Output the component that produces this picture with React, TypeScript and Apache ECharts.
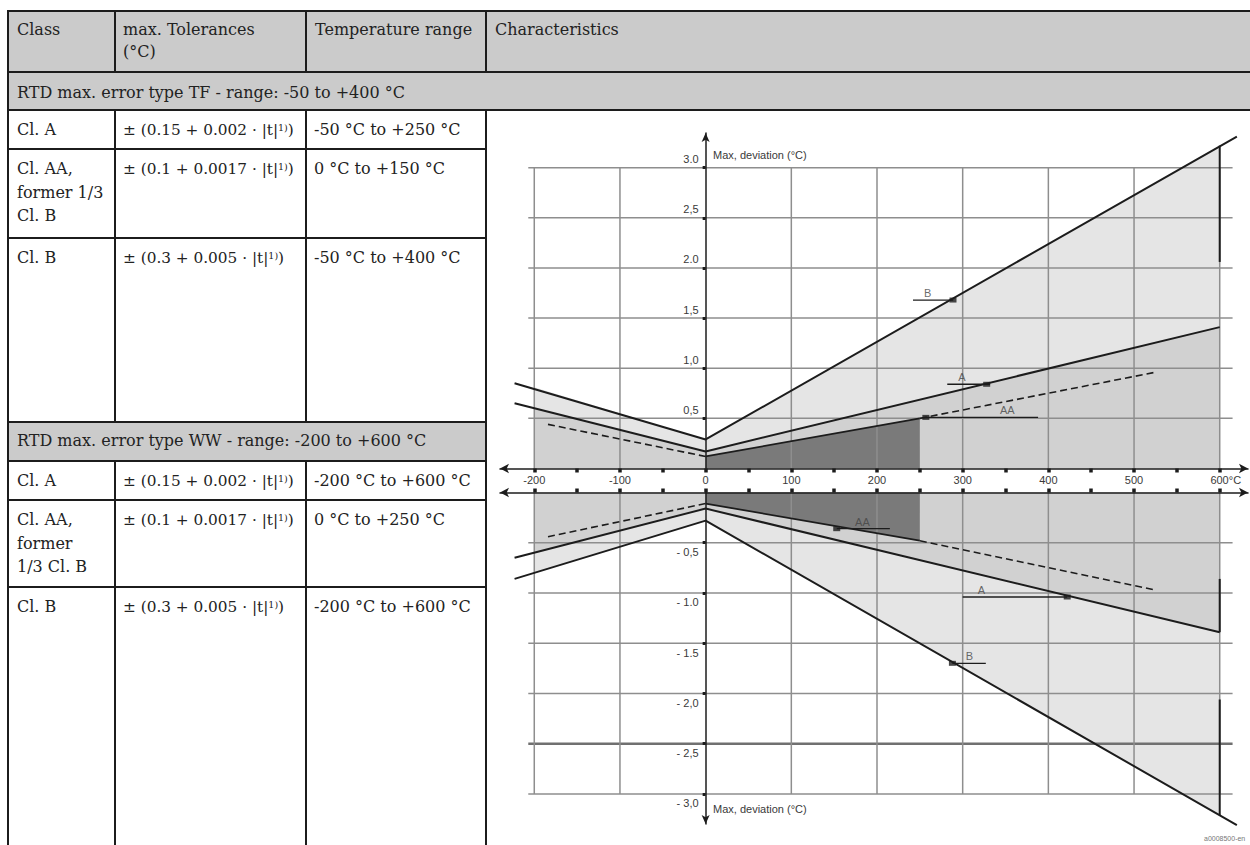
import React, { useEffect, useRef } from "react";
import * as echarts from "echarts";

// ---------- table content ----------
const headerCells = ["Class", "max. Tolerances", "(°C)", "Temperature range", "Characteristics"];
const sectionTF = "RTD max. error type TF - range: -50 to +400 °C";
const sectionWW = "RTD max. error type WW - range: -200 to +600 °C";
const classesTF = [["Cl. A"], ["Cl. AA,", "former 1/3", "Cl. B"], ["Cl. B"]];
const classesWW = [["Cl. A"], ["Cl. AA,", "former", "1/3 Cl. B"], ["Cl. B"]];
const tolerancesTF = [["0.15", "0.002"], ["0.1", "0.0017"], ["0.3", "0.005"]];
const tolerancesWW = [["0.15", "0.002"], ["0.1", "0.0017"], ["0.3", "0.005"]];
const rangesTF = ["-50 °C to +250 °C", "0 °C to +150 °C", "-50 °C to +400 °C"];
const rangesWW = ["-200 °C to +600 °C", "0 °C to +250 °C", "-200 °C to +600 °C"];

// ---------- chart axes ----------
const tempTicks = [-200, -150, -100, -50, 0, 50, 100, 150, 200, 250, 300, 350, 400, 450, 500, 550, 600];
const tempLabels = [-200, -100, 0, 100, 200, 300, 400, 500, 600];
const gridTemps = [-200, -100, 100, 200, 300, 400, 500, 600];
const posDevTicks = [0.5, 1, 1.5, 2, 2.5, 3];
const posDevLabels = ["0,5", "1,0", "1,5", "2.0", "2,5", "3.0"];
const negDevTicks = [-0.5, -1, -1.5, -2, -2.5, -3];
const negDevLabels = ["- 0,5", "- 1.0", "- 1.5", "- 2,0", "- 2,5", "- 3,0"];

// ---------- positive deviation (upper half) ----------
const upperB = [[-223, 0.85], [0, 0.29], [620, 3.31]];
const upperA = [[-223, 0.65], [0, 0.17], [600, 1.41]];
const upperAALeft = [[-184, 0.44], [0, 0.12]];
const upperAA = [[0, 0.12], [250, 0.5]];
const upperAARight = [[250, 0.5], [525, 0.96]];
const upperFillB = [[-200, 0.81], [0, 0.29], [600, 3.22]];
const upperFillA = [[-200, 0.6], [0, 0.17], [600, 1.41]];
const upperFillAA = [[0, 0.12], [250, 0.5]];
const upperEdge = [[600, 3.22], [600, 2.06]];
const upperMarkers = [[288.7, 1.68], [328, 0.84], [257, 0.51]];
const upperLeaders = [
  [[242, 1.68], [289, 1.68]],
  [[282, 0.84], [332, 0.84]],
  [[257, 0.51], [388, 0.51]],
];
const upperTags = [
  { name: "B", value: [259, 1.68] },
  { name: "A", value: [299, 0.84] },
  { name: "AA", value: [352, 0.51] },
];

// ---------- negative deviation (lower half) ----------
const lowerB = [[-223, -0.86], [0, -0.28], [620, -3.31]];
const lowerA = [[-223, -0.65], [0, -0.16], [600, -1.39]];
const lowerAALeft = [[-184, -0.44], [0, -0.11]];
const lowerAA = [[0, -0.11], [250, -0.48]];
const lowerAARight = [[250, -0.48], [525, -0.97]];
const lowerFillB = [[-200, -0.8], [0, -0.28], [600, -3.21]];
const lowerFillA = [[-200, -0.6], [0, -0.16], [600, -1.39]];
const lowerFillAA = [[0, -0.11], [250, -0.48]];
const lowerEdgeA = [[600, -0.86], [600, -1.39]];
const lowerEdgeB = [[600, -2.06], [600, -3.21]];
const lowerMarkers = [[153, -0.36], [422, -1.04], [288, -1.7]];
const lowerLeaders = [
  [[153, -0.36], [215, -0.36]],
  [[300, -1.04], [422, -1.04]],
  [[288, -1.7], [327, -1.7]],
];
const lowerTags = [
  { name: "AA", value: [183, -0.36] },
  { name: "A", value: [322, -1.04] },
  { name: "B", value: [308, -1.7] },
];

// ---------- styles ----------
const SERIF = '"DejaVu Serif", "Liberation Serif", serif';
const SANS = '"Liberation Sans", Arial, sans-serif';
const INK = "#1c1c1c";
const HEAD_GRAY = "#cbcbcb";
const LIGHT = "#e5e5e5";
const MID = "#d1d1d1";
const DARK = "#7a7a7a";
const GRIDC = "#8e8e8e";

const GRID_LEFT = 500;
const GRID_WIDTH = 748;
const T_MIN = -240;
const T_MAX = 633;
// the deviation axis sits on 0 °C
const ZERO_SHIFT = (-T_MIN / (T_MAX - T_MIN)) * GRID_WIDTH;

const GRID_X_MIN = -207;
const GRID_X_MAX = 615;

function gridSegments(devTicks: number[], devEnd: number) {
  const segs: number[][] = [];
  devTicks.forEach((v) => segs.push([GRID_X_MIN, v, GRID_X_MAX, v]));
  gridTemps.forEach((t) => segs.push([t, 0, t, devEnd]));
  return segs;
}

function gridSeries(idx: number, devTicks: number[], devEnd: number) {
  return {
    type: "custom",
    xAxisIndex: idx,
    yAxisIndex: idx,
    z: 2,
    silent: true,
    data: gridSegments(devTicks, devEnd),
    renderItem: (_p: any, api: any) => {
      const a = api.coord([api.value(0), api.value(1)]);
      const b = api.coord([api.value(2), api.value(3)]);
      const heavy = api.value(1) === -2.5 && api.value(3) === -2.5;
      return {
        type: "line",
        shape: { x1: a[0], y1: a[1], x2: b[0], y2: b[1] },
        style: { stroke: heavy ? "#707070" : GRIDC, lineWidth: heavy ? 2.5 : 1.5 },
      };
    },
  };
}

function area(idx: number, data: number[][], color: string) {
  return {
    type: "line",
    xAxisIndex: idx,
    yAxisIndex: idx,
    data,
    symbol: "none",
    z: 1,
    silent: true,
    clip: false,
    lineStyle: { width: 0, opacity: 0 },
    areaStyle: { color, opacity: 1 },
  };
}

function stroke(idx: number, data: number[][], width = 2, dashed = false, z = 3) {
  return {
    type: "line",
    xAxisIndex: idx,
    yAxisIndex: idx,
    data,
    symbol: "none",
    z,
    silent: true,
    clip: false,
    lineStyle: { color: INK, width, type: dashed ? [7, 4] : "solid" },
  };
}

function markers(idx: number, data: number[][]) {
  return {
    type: "scatter",
    xAxisIndex: idx,
    yAxisIndex: idx,
    data,
    symbol: "rect",
    symbolSize: [7, 5],
    z: 5,
    silent: true,
    clip: false,
    itemStyle: { color: INK },
  };
}

function tags(idx: number, data: any[]) {
  return {
    type: "scatter",
    xAxisIndex: idx,
    yAxisIndex: idx,
    data,
    symbolSize: 1,
    z: 5,
    silent: true,
    clip: false,
    itemStyle: { color: "rgba(0,0,0,0)" },
    label: {
      show: true,
      position: "top",
      distance: 1,
      formatter: "{b}",
      fontFamily: SANS,
      fontSize: 11,
      color: "#444",
    },
  };
}

// ---------- table drawing ----------
const FONT_PX = 16;
const TOL_FONT_PX = 15.3;

function hLine(y: number, x1: number, x2: number) {
  return { type: "line", z: 20, silent: true, shape: { x1, y1: y, x2, y2: y }, style: { stroke: INK, lineWidth: 2 } };
}
function vLine(x: number, y1: number, y2: number) {
  return { type: "line", z: 20, silent: true, shape: { x1: x, y1, x2: x, y2 }, style: { stroke: INK, lineWidth: 2 } };
}
function txt(x: number, y: number, text: string, size = FONT_PX) {
  return {
    type: "text",
    z: 21,
    silent: true,
    x,
    y,
    style: {
      text,
      fontFamily: SERIF,
      fontSize: size,
      fill: "#222",
      verticalAlign: "middle",
      align: "left",
      rich: {
        s: { fontFamily: SERIF, fontSize: 9.5, fill: "#222", verticalAlign: "top", lineHeight: 15 },
      },
    },
  };
}
function tolText(tol: string[]) {
  return `± (${tol[0]} + ${tol[1]} · |t|{s|1)})`;
}

const COLX = [8, 115, 306, 486, 1252];
const LINE_H = 23.5;

function tableGraphics() {
  const g: any[] = [];
  // gray bands
  g.push({ type: "rect", z: 19, silent: true, shape: { x: 8, y: 11, width: 1244, height: 99 }, style: { fill: HEAD_GRAY } });
  g.push({ type: "rect", z: 19, silent: true, shape: { x: 8, y: 422, width: 478, height: 39 }, style: { fill: HEAD_GRAY } });
  // horizontal rules
  g.push(hLine(11, 7, 1252));
  g.push(hLine(72, 7, 1252));
  g.push(hLine(110, 7, 1252));
  [149, 238, 422, 461, 500, 587].forEach((y) => g.push(hLine(y, 7, 487)));
  // vertical rules
  g.push(vLine(8, 10, 846));
  [115, 306].forEach((x) => {
    g.push(vLine(x, 10, 72));
    g.push(vLine(x, 110, 422));
    g.push(vLine(x, 461, 846));
  });
  g.push(vLine(486, 10, 72));
  g.push(vLine(486, 110, 846));

  // header
  g.push(txt(17, 29, headerCells[0]));
  g.push(txt(123, 29, headerCells[1]));
  g.push(txt(123, 51, headerCells[2]));
  g.push(txt(315, 29, headerCells[3]));
  g.push(txt(495, 29, headerCells[4]));
  g.push(txt(17, 92, sectionTF));
  g.push(txt(17, 440, sectionWW));

  const rowsTF = [110, 149, 238];
  const rowsWW = [461, 500, 587];
  const fill = (tops: number[], classes: string[][], tols: string[][], ranges: string[]) => {
    tops.forEach((top, i) => {
      const y0 = top + 19.5;
      classes[i].forEach((line, k) => g.push(txt(COLX[0] + 9, y0 + k * LINE_H, line)));
      g.push(txt(COLX[1] + 8, y0, tolText(tols[i]), TOL_FONT_PX));
      g.push(txt(COLX[2] + 8, y0, ranges[i]));
    });
  };
  fill(rowsTF, classesTF, tolerancesTF, rangesTF);
  fill(rowsWW, classesWW, tolerancesWW, rangesWW);
  return g;
}

// ---------- option ----------
const axisLabelFont = { fontFamily: SANS, fontSize: 11, color: "#3a3a3a" };

const option: any = {
  animation: false,
  backgroundColor: "#ffffff",
  grid: [
    { left: GRID_LEFT, top: 133, width: GRID_WIDTH, height: 335.5 },
    { left: GRID_LEFT, top: 492.5, width: GRID_WIDTH, height: 331.6 },
  ],
  xAxis: [
    {
      type: "value",
      gridIndex: 0,
      min: T_MIN,
      max: T_MAX,
      position: "bottom",
      z: 6,
      axisLine: { show: true, onZero: true, symbol: ["arrow", "arrow"], symbolSize: [7, 9], lineStyle: { color: INK, width: 1.5 } },
      axisTick: { show: true, customValues: tempTicks, length: 4, lineStyle: { color: INK, width: 3.5 } },
      axisLabel: {
        show: true,
        customValues: tempLabels,
        margin: 6,
        ...axisLabelFont,
        formatter: (v: number) => (v === 600 ? "{p|}600°C" : String(v)),
        rich: { p: { width: 12 } },
      },
      splitLine: { show: false },
    },
    {
      type: "value",
      gridIndex: 1,
      min: T_MIN,
      max: T_MAX,
      position: "top",
      z: 6,
      axisLine: { show: true, onZero: true, symbol: ["arrow", "arrow"], symbolSize: [7, 9], lineStyle: { color: INK, width: 1.5 } },
      axisTick: { show: true, customValues: tempTicks, length: 4, lineStyle: { color: INK, width: 3.5 } },
      axisLabel: { show: false },
      splitLine: { show: false },
    },
  ],
  yAxis: [
    {
      type: "value",
      gridIndex: 0,
      min: 0,
      max: 3.346,
      position: "left",
      offset: -ZERO_SHIFT,
      z: 6,
      axisLine: { show: true, onZero: false, symbol: ["none", "arrow"], symbolSize: [6, 9], lineStyle: { color: INK, width: 1.5 } },
      axisTick: { show: true, customValues: posDevTicks, length: 3, lineStyle: { color: INK, width: 3 } },
      axisLabel: {
        show: true,
        customValues: posDevTicks,
        margin: 7,
        verticalAlign: "bottom",
        padding: [0, 0, 3, 0],
        ...axisLabelFont,
        formatter: (v: number) => posDevLabels[posDevTicks.indexOf(v)] ?? "",
      },
      splitLine: { show: false },
    },
    {
      type: "value",
      gridIndex: 1,
      min: -3.3,
      max: 0,
      position: "left",
      offset: -ZERO_SHIFT,
      z: 6,
      axisLine: { show: true, onZero: false, symbol: ["arrow", "none"], symbolSize: [6, 9], lineStyle: { color: INK, width: 1.5 } },
      axisTick: { show: true, customValues: negDevTicks, length: 3, lineStyle: { color: INK, width: 3 } },
      axisLabel: {
        show: true,
        customValues: negDevTicks,
        margin: 7,
        verticalAlign: "top",
        padding: [4, 0, 0, 0],
        ...axisLabelFont,
        formatter: (v: number) => negDevLabels[negDevTicks.indexOf(v)] ?? "",
      },
      splitLine: { show: false },
    },
  ],
  series: [
    // upper half
    area(0, upperFillB, LIGHT),
    area(0, upperFillA, MID),
    area(0, upperFillAA, DARK),
    gridSeries(0, posDevTicks, 3),
    stroke(0, upperB, 2),
    stroke(0, upperA, 2),
    stroke(0, upperAA, 1.8),
    stroke(0, upperAALeft, 1.6, true),
    stroke(0, upperAARight, 1.6, true),
    stroke(0, upperEdge, 2),
    ...upperLeaders.map((l) => stroke(0, l, 1.3, false, 4)),
    markers(0, upperMarkers),
    tags(0, upperTags),
    // lower half
    area(1, lowerFillB, LIGHT),
    area(1, lowerFillA, MID),
    area(1, lowerFillAA, DARK),
    gridSeries(1, negDevTicks, -3),
    stroke(1, lowerB, 2),
    stroke(1, lowerA, 2),
    stroke(1, lowerAA, 1.8),
    stroke(1, lowerAALeft, 1.6, true),
    stroke(1, lowerAARight, 1.6, true),
    stroke(1, lowerEdgeA, 2),
    stroke(1, lowerEdgeB, 2),
    ...lowerLeaders.map((l) => stroke(1, l, 1.3, false, 4)),
    markers(1, lowerMarkers),
    tags(1, lowerTags),
  ],
  graphic: [
    ...tableGraphics(),
    {
      type: "text",
      z: 21,
      silent: true,
      x: 713,
      y: 155,
      style: { text: "Max, deviation (°C)", fontFamily: SANS, fontSize: 11, fill: "#3a3a3a", verticalAlign: "middle" },
    },
    {
      type: "text",
      z: 21,
      silent: true,
      x: 713,
      y: 809,
      style: { text: "Max, deviation (°C)", fontFamily: SANS, fontSize: 11, fill: "#3a3a3a", verticalAlign: "middle" },
    },
    {
      type: "text",
      z: 21,
      silent: true,
      x: 1204,
      y: 838,
      style: { text: "a0008500-en", fontFamily: SANS, fontSize: 7, fill: "#777", verticalAlign: "middle" },
    },
  ],
};

export default function App() {
  const ref = useRef<HTMLDivElement>(null);
  useEffect(() => {
    if (!ref.current) return;
    const chart = echarts.init(ref.current, null, { renderer: "svg" });
    chart.setOption(option);
    return () => chart.dispose();
  }, []);
  return (
    <div
      ref={ref}
      style={{ position: "fixed", left: 0, top: 0, width: 1250, height: 845, background: "#fff" }}
    />
  );
}
